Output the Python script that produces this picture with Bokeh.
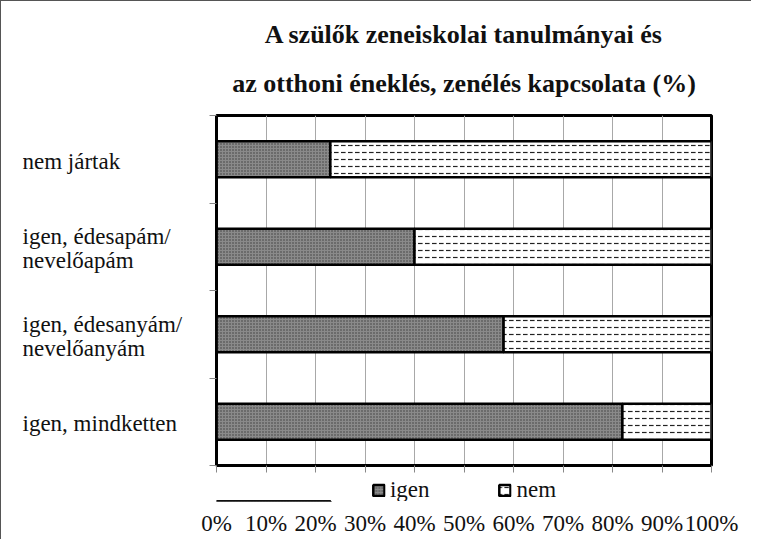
from bokeh.plotting import figure
from bokeh.layouts import row, column
from bokeh.models import (Range1d, FixedTicker, Legend, LegendItem, LinearAxis, Grid,
                          ColumnDataSource, Title, PrintfTickFormatter, CustomJSTickFormatter)
from bokeh.core.properties import value
from bokeh.embed import file_html
from bokeh.resources import INLINE

categories = ["nem jártak", "igen, édesapám/\nnevelőapám", "igen, édesanyám/\nnevelőanyám", "igen, mindketten"]
igen = [23, 40, 58, 82]
nem = [77, 60, 42, 18]
x_ticks = [0, 10, 20, 30, 40, 50, 60, 70, 80, 90, 100]
series_names = ["igen", "nem"]
title_lines = ["A szülők zeneiskolai tanulmányai és", "az otthoni éneklés, zenélés kapcsolata (%)"]

FONT = "Liberation Serif"
FS = "23px"
TOP, BOT = 114, 14
H1 = 478

IGEN_STYLE = dict(fill_color="#8a8a8a", hatch_pattern="dot", hatch_color="#3a3a3a",
                  hatch_scale=3, hatch_weight=1, line_color="black", line_width=2.5)
NEM_STYLE = dict(fill_color="white", hatch_pattern="horizontal_dash", hatch_color="#222222",
                 hatch_scale=7, hatch_weight=1.2, line_color="black", line_width=2.5)

n = len(categories)
centers = [i + 0.5 for i in range(n)]
src = ColumnDataSource(dict(y=centers, cat=categories, igen=igen, nem=nem,
                            nem_left=igen, nem_right=[a + b for a, b in zip(igen, nem)],
                            lx=[0] * n))

yr = Range1d(n, 0)
xr = Range1d(0, 100)

# ---- category label column (left-aligned labels) ----
lab = figure(width=200, height=H1, output_backend="svg", toolbar_location=None,
             x_range=Range1d(0, 1), y_range=yr, x_axis_location=None, y_axis_location=None,
             min_border_left=21, min_border_right=0, min_border_top=TOP, min_border_bottom=BOT)
lab.outline_line_color = None
lab.grid.visible = False
lab.text(x="lx", y="y", text="cat", source=src, text_align="left", text_baseline="middle",
         text_font=value(FONT), text_font_size=FS, text_color="#111111", text_line_height=0.95,
         y_offset=2)

# ---- main chart ----
p = figure(width=550, height=H1, output_backend="svg", toolbar_location=None,
           y_range=yr, x_range=xr, x_axis_location=None,
           min_border_left=15, min_border_right=40, min_border_top=TOP, min_border_bottom=BOT)

p.add_layout(Title(text=title_lines[1], align="center", text_font=FONT, text_font_size="26px",
                   text_font_style="bold", text_color="#111111", standoff=36), "above")
p.add_layout(Title(text=title_lines[0], align="center", text_font=FONT, text_font_size="26px",
                   text_font_style="bold", text_color="#111111", standoff=0), "above")

p.hbar(y="y", left=0, right="igen", height=0.41, source=src, **IGEN_STYLE)
p.hbar(y="y", left="nem_left", right="nem_right", height=0.41, source=src, **NEM_STYLE)

blank = CustomJSTickFormatter(code="return ''")

xline = LinearAxis(ticker=FixedTicker(ticks=x_ticks), formatter=blank,
                   axis_line_color="black", axis_line_width=3,
                   major_tick_line_color="#888888", major_tick_out=7, major_tick_in=0,
                   minor_tick_line_color=None, major_label_standoff=0,
                   major_label_text_font_size="1px")
p.add_layout(xline, "below")

p.yaxis.ticker = FixedTicker(ticks=centers, minor_ticks=list(range(n + 1)))
p.yaxis.formatter = blank
p.yaxis.major_label_text_font_size = "1px"
p.yaxis.major_tick_line_color = None
p.yaxis.minor_tick_line_color = "#888888"
p.yaxis.minor_tick_out = 7
p.yaxis.minor_tick_in = 0
p.yaxis.axis_line_color = "black"
p.yaxis.axis_line_width = 2
p.yaxis.major_label_standoff = 0

p.grid.grid_line_color = None
p.add_layout(Grid(dimension=0, ticker=FixedTicker(ticks=x_ticks),
                  grid_line_color="#a8a8a8", grid_line_width=1))

p.outline_line_color = "black"
p.outline_line_width = 3

# ---- legend + percentage labels strip ----
leg = figure(width=750, height=60, output_backend="svg", toolbar_location=None,
             x_range=xr, y_range=Range1d(0, 1), x_axis_location=None, y_axis_location=None,
             min_border_left=215, min_border_right=40, min_border_top=0, min_border_bottom=38)
leg.outline_line_color = None
leg.grid.visible = False
# legend proxies: same styles, placed outside the visible strip
proxy = ColumnDataSource(dict(y=[-1], left=[0], right=[igen[0]]))
d1 = leg.hbar(y="y", left="left", right="right", height=0.4, source=proxy, **IGEN_STYLE)
d2 = leg.hbar(y="y", left="left", right="right", height=0.4, source=proxy, **NEM_STYLE)
legend = Legend(items=[LegendItem(label=series_names[0], renderers=[d1]),
                       LegendItem(label=series_names[1], renderers=[d2])],
                orientation="horizontal", location="center",
                label_text_font=FONT, label_text_font_size=FS, label_text_color="#111111",
                glyph_width=14, glyph_height=14, spacing=68, padding=0, margin=0,
                border_line_color=None, background_fill_alpha=0, label_standoff=5)
leg.add_layout(legend, "center")

xlab = LinearAxis(ticker=FixedTicker(ticks=x_ticks), formatter=PrintfTickFormatter(format="%d%%"),
                  axis_line_color=None, major_tick_line_color=None, minor_tick_line_color=None,
                  major_tick_out=0, major_tick_in=0,
                  major_label_text_font=FONT, major_label_text_font_size=FS,
                  major_label_text_color="#111111", major_label_standoff=9)
leg.add_layout(xlab, "below")

layout = column(row(lab, p, spacing=0), leg, spacing=0)
layout.styles = {"border-left": "1px solid #555555", "border-top": "1px solid #555555"}

open("out.html", "w").write(file_html(layout, INLINE))
